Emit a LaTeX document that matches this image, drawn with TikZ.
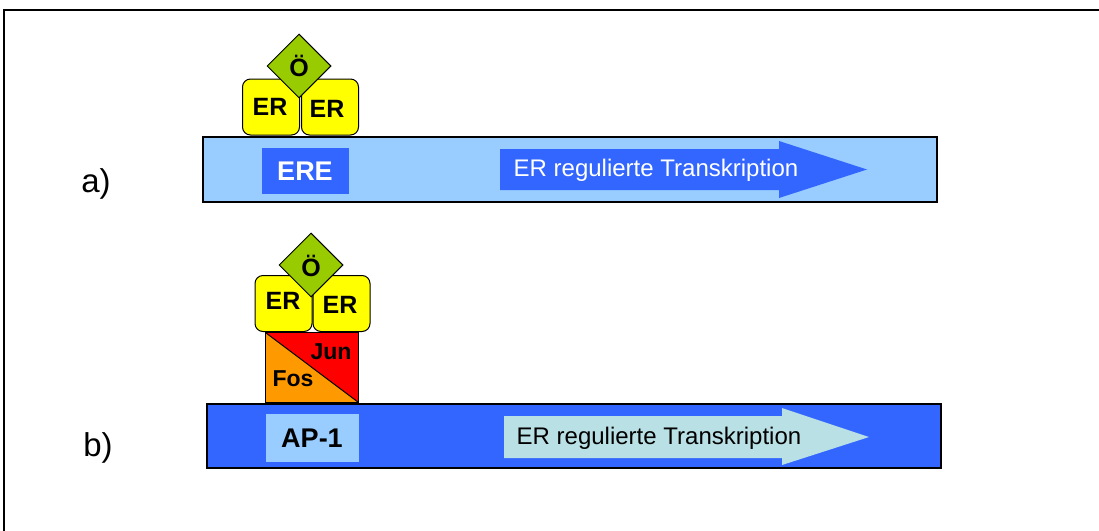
\documentclass[tikz,border=0pt]{standalone}
\usepackage{fontspec}
\setmainfont{Liberation Sans}
\usetikzlibrary{shapes.geometric}
\definecolor{lblue}{HTML}{99CCFF}
\definecolor{dblue}{HTML}{3366FF}
\definecolor{cyanish}{HTML}{B9E0E4}
\definecolor{ergelb}{HTML}{FFFF00}
\definecolor{ogreen}{HTML}{99CC00}
\definecolor{fosorange}{HTML}{FF9900}
\definecolor{junred}{HTML}{FF0000}
\tikzset{
  barbox/.style={draw=black, line width=1.3pt, inner sep=0pt},
  erbox/.style={draw=black, fill=ergelb, rounded corners=8pt, line width=1pt, inner sep=0pt, minimum width=57, minimum height=56},
  oediamond/.style={diamond, aspect=1, draw=black, fill=ogreen, line width=1pt, inner sep=0pt, minimum width=64, minimum height=64},
  oetext/.style={font=\fontsize{25}{28}\selectfont\bfseries, inner sep=0pt},
  ertext/.style={font=\fontsize{25}{28}\selectfont\bfseries, inner sep=0pt},
  smalltext/.style={font=\fontsize{23}{26}\selectfont\bfseries, inner sep=0pt},
  panellabel/.style={font=\fontsize{33}{38}\selectfont, inner sep=0pt},
  arrowtext/.style={font=\fontsize{24}{28}\selectfont, inner sep=0pt},
  sitetext/.style={font=\fontsize{27}{30}\selectfont\bfseries, inner sep=0pt},
}
\begin{document}
\begin{tikzpicture}[x=1pt,y=-1pt]
\useasboundingbox (0,0) rectangle (1099,530);
% frame
\coordinate (fbl) at (4,540);
\coordinate (ftl) at (4,10);
\coordinate (ftr) at (1110,10);
\draw[line width=1.5pt] (fbl) -- (ftl) -- (ftr);

% ---------- panel a ----------
\node[panellabel] (la) at (96,184) {a)};
\node[barbox, fill=lblue, minimum width=734, minimum height=65] (bara) at (570,169.5) {};
\node[inner sep=0pt, fill=dblue, minimum width=87, minimum height=46] (ere) at (305,171) {};
\node[sitetext, text=white] (eretext) at (305,171) {ERE};
\fill[dblue] (500,149) -- (779,149) -- (779,141) -- (867,169.5) -- (779,198) -- (779,190) -- (500,190) -- cycle;
\node[arrowtext, text=white] (ta) at (656,170) {ER regulierte Transkription};

\node[erbox] (era1) at (271,107) {};
\node[erbox] (era2) at (330,107) {};
\node[ertext] (erta1) at (270,107) {ER};
\node[ertext] (erta2) at (327,109) {ER};
\node[oediamond] (oea) at (299,66) {};
\node[oetext] (oeta) at (299,66) {Ö};

% ---------- panel b ----------
\node[panellabel] (lb) at (98,448) {b)};
\node[barbox, fill=dblue, minimum width=734, minimum height=64] (barb) at (574,436) {};
\node[inner sep=0pt, fill=lblue, minimum width=93, minimum height=48] (ap) at (312,438) {};
\node[sitetext, text=black] (aptext) at (312,438) {AP-1};
\fill[cyanish] (504,416) -- (782,416) -- (782,408) -- (869,437) -- (782,465) -- (782,458) -- (504,458) -- cycle;
\node[arrowtext, text=black] (tb) at (659,438) {ER regulierte Transkription};

\node[inner sep=0pt, fill=junred, minimum width=92, minimum height=69] (fj) at (312,367.5) {};
\fill[fosorange] (fj.north west) -- (fj.south east) -- (fj.south west) -- cycle;
\draw[line width=1pt] (fj.north west) -- (fj.south east);
\draw[line width=1pt] (fj.north west) rectangle (fj.south east);
\node[smalltext] (jun) at (331,352) {Jun};
\node[smalltext] (fos) at (293,379) {Fos};

\node[erbox] (erb1) at (283.5,303.5) {};
\node[erbox] (erb2) at (341.5,303.5) {};
\node[ertext] (ertb1) at (283,301) {ER};
\node[ertext] (ertb2) at (340,305) {ER};
\node[oediamond] (oeb) at (311,265) {};
\node[oetext] (oetb) at (311,266) {Ö};
\end{tikzpicture}
\end{document}
